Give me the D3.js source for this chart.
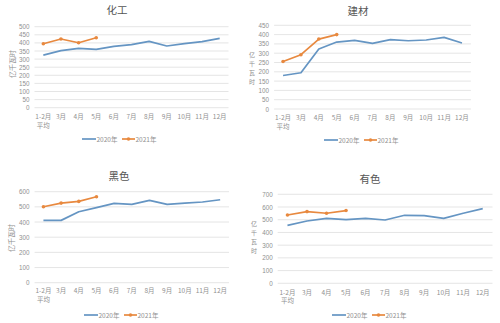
<!DOCTYPE html>
<html>
<head>
<meta charset="utf-8">
<script src="https://cdn.jsdelivr.net/npm/d3@7"></script>
<style>
  html, body { margin: 0; padding: 0; background: #fff; }
  svg { display: block; font-family: "Noto Sans CJK SC", "Noto Sans", sans-serif; }
</style>
</head>
<body>
<svg id="chart" width="500" height="323"></svg>
<script>
// Monthly electricity consumption by sector, 亿千瓦时
const months = ["1-2月", "3月", "4月", "5月", "6月", "7月", "8月", "9月", "10月", "11月", "12月"];
const seriesNames = ["2020年", "2021年"];

const chem2020 = [325, 352, 366, 360, 379, 389, 409, 381, 395, 408, 428];
const chem2021 = [395, 424, 401, 432];
const chemTicks = [0, 50, 100, 150, 200, 250, 300, 350, 400, 450, 500];

const build2020 = [180, 195, 323, 360, 369, 353, 373, 367, 371, 385, 355];
const build2021 = [255, 292, 376, 400];
const buildTicks = [0, 50, 100, 150, 200, 250, 300, 350, 400, 450];

const black2020 = [411, 411, 468, 495, 523, 516, 543, 516, 525, 532, 547];
const black2021 = [501, 525, 536, 567];
const blackTicks = [0, 100, 200, 300, 400, 500, 600];

const nonf2020 = [456, 490, 511, 501, 511, 498, 535, 532, 511, 551, 587];
const nonf2021 = [537, 564, 551, 572];
const nonfTicks = [0, 100, 200, 300, 400, 500, 600, 700];

const BLUE = "#6595c3";
const ORANGE = "#e8893f";
const GRID = "#dedede";
const TEXT = "#909090";

// Panel layout: plot rectangle, title, axis label and legend placement
const panels = [
  { title: "化工", s20: chem2020, s21: chem2021, ticks: chemTicks,
    x0: 34.5, x1: 228.5, yTop: 26.7, yBot: 107.7, titleX: 117, titleY: 14,
    labelMode: "rotate", labelX: 12, labelY: 64, legendY: 139, legendX: 82, labelRowY: 119 },
  { title: "建材", s20: build2020, s21: build2021, ticks: buildTicks,
    x0: 274.1, x1: 470.9, yTop: 25.3, yBot: 109, titleX: 358, titleY: 15,
    labelMode: "stack", labelX: 252, labelY: 51, legendY: 140, legendX: 324, labelRowY: 120 },
  { title: "黑色", s20: black2020, s21: black2021, ticks: blackTicks,
    x0: 34.6, x1: 229, yTop: 191.7, yBot: 282.7, titleX: 119, titleY: 180,
    labelMode: "rotate", labelX: 11, labelY: 238, legendY: 315, legendX: 84, labelRowY: 293 },
  { title: "有色", s20: nonf2020, s21: nonf2021, ticks: nonfTicks,
    x0: 277.7, x1: 492.5, yTop: 194.3, yBot: 283.3, titleX: 370, titleY: 183,
    labelMode: "stack", labelX: 254, labelY: 220, legendY: 315, legendX: 332, labelRowY: 294.5 }
];

const svg = d3.select("#chart");

panels.forEach(p => {
  const g = svg.append("g");
  const maxTick = p.ticks[p.ticks.length - 1];

  const x = d3.scalePoint().domain(months).range([p.x0, p.x1]).padding(0.5);
  const y = d3.scaleLinear().domain([0, maxTick]).range([p.yBot, p.yTop]);

  // horizontal gridlines
  g.append("g").selectAll("line").data(p.ticks).join("line")
    .attr("x1", p.x0).attr("x2", p.x1)
    .attr("y1", d => y(d)).attr("y2", d => y(d))
    .attr("stroke", GRID).attr("stroke-width", 0.8);

  // y axis labels
  const yAxis = d3.axisLeft(y).tickValues(p.ticks).tickSize(0).tickPadding(5);
  const ya = g.append("g").attr("transform", `translate(${p.x0},0)`).call(yAxis);
  ya.select(".domain").remove();
  ya.selectAll("text").attr("fill", TEXT).attr("font-size", 6.3)
    .attr("font-family", "'Liberation Sans', Arial, sans-serif");

  // x axis labels
  const xa = g.append("g");
  xa.selectAll("text.m").data(months).join("text")
    .attr("class", "m")
    .attr("x", d => x(d)).attr("y", p.labelRowY)
    .attr("text-anchor", "middle").attr("fill", TEXT).attr("font-size", 6.5)
    .text(d => d);
  xa.append("text")
    .attr("x", x(months[0])).attr("y", p.labelRowY + 8.5)
    .attr("text-anchor", "middle").attr("fill", TEXT).attr("font-size", 6.5)
    .text("平均");

  // title
  g.append("text").attr("x", p.titleX).attr("y", p.titleY)
    .attr("text-anchor", "middle").attr("fill", "#555").attr("font-size", 10.5)
    .text(p.title);

  // unit label
  if (p.labelMode === "rotate") {
    g.append("text")
      .attr("transform", `translate(${p.labelX},${p.labelY}) rotate(-90)`)
      .attr("text-anchor", "middle").attr("dominant-baseline", "central")
      .attr("fill", TEXT).attr("font-size", 7)
      .text("亿千瓦时");
  } else {
    g.append("g").selectAll("text").data(Array.from("亿千瓦时")).join("text")
      .attr("x", p.labelX).attr("y", (d, i) => p.labelY + i * 9)
      .attr("text-anchor", "middle").attr("dominant-baseline", "hanging")
      .attr("fill", TEXT).attr("font-size", 6)
      .text(d => d);
  }

  const line = d3.line().x((d, i) => x(months[i])).y(d => y(d));

  g.append("path").datum(p.s20)
    .attr("d", line).attr("fill", "none")
    .attr("stroke", BLUE).attr("stroke-width", 1.7).attr("stroke-linejoin", "round");

  g.append("path").datum(p.s21)
    .attr("d", line).attr("fill", "none")
    .attr("stroke", ORANGE).attr("stroke-width", 1.7).attr("stroke-linejoin", "round");

  g.append("g").selectAll("circle").data(p.s21).join("circle")
    .attr("cx", (d, i) => x(months[i])).attr("cy", d => y(d)).attr("r", 1.8)
    .attr("fill", ORANGE);

  // legend
  const lg = g.append("g").attr("transform", `translate(${p.legendX},${p.legendY})`);
  lg.append("line").attr("x1", 0).attr("x2", 14).attr("y1", 0).attr("y2", 0)
    .attr("stroke", BLUE).attr("stroke-width", 1.7);
  lg.append("text").attr("x", 14.5).attr("y", 0).attr("dominant-baseline", "central")
    .attr("fill", TEXT).attr("font-size", 6.5).text(seriesNames[0]);
  lg.append("line").attr("x1", 40).attr("x2", 53).attr("y1", 0).attr("y2", 0)
    .attr("stroke", ORANGE).attr("stroke-width", 1.7);
  lg.append("circle").attr("cx", 46.5).attr("cy", 0).attr("r", 1.8).attr("fill", ORANGE);
  lg.append("text").attr("x", 53.5).attr("y", 0).attr("dominant-baseline", "central")
    .attr("fill", TEXT).attr("font-size", 6.5).text(seriesNames[1]);
});
</script>
</body>
</html>
